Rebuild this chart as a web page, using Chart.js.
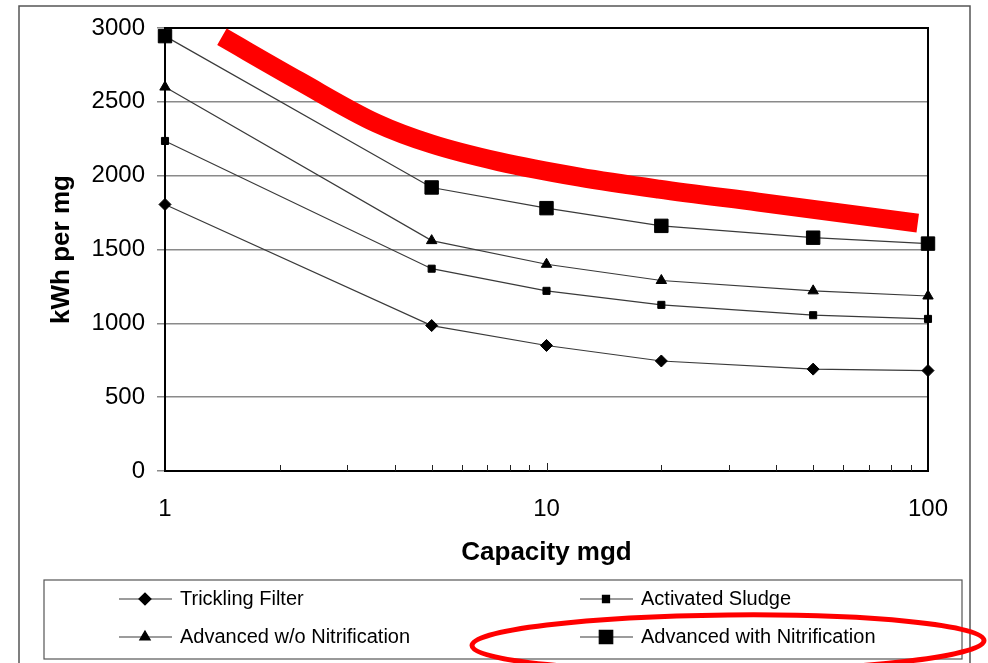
<!DOCTYPE html>
<html lang="en">
<head>
<meta charset="UTF-8">
<title>kWh per mg vs Capacity</title>
<script src="https://cdn.jsdelivr.net/npm/chart.js"></script>
<style>
  body { margin: 0; background: #fff; }
  canvas { display: block; }
</style>
</head>
<body>
<canvas id="energyChart" width="988" height="663"></canvas>
<script>
// capacity (mgd) where each curve was read
const capacity = [1, 5, 10, 20, 50, 100];

const tricklingFilter = [1805, 985, 850, 745, 690, 680];
const activatedSludge = [2235, 1370, 1220, 1125, 1055, 1030];
const advancedNoNitr  = [2600, 1560, 1400, 1290, 1220, 1185];
const advancedNitr    = [2945, 1920, 1780, 1660, 1580, 1540];

// hand drawn red highlight above the top curve
const highlightX = [1.41, 2.25, 3.58, 5.0, 7.5, 12.2, 19.7, 35.9, 94];
const highlightY = [2940, 2640, 2356, 2214, 2095, 1990, 1909, 1821, 1679];

const seriesLabels = ["Trickling Filter", "Activated Sludge", "Advanced w/o Nitrification", "Advanced with Nitrification"];
const xTickLabels = [1, 10, 100];
const xMinorTicks = [2, 3, 4, 5, 6, 7, 8, 9, 20, 30, 40, 50, 60, 70, 80, 90];
const yTicks = [0, 500, 1000, 1500, 2000, 2500, 3000];

const FONT = "'Liberation Sans', Arial, sans-serif";
const LINE = "#3a3a3a";

function pts(ys) {
    return capacity.map((x, i) => ({ x: x, y: ys[i] }));
}

function series(label, ys, style, radius) {
    return {
        label: label,
        data: pts(ys),
        borderColor: LINE,
        borderWidth: 1.2,
        pointStyle: style,
        pointRadius: radius,
        pointHoverRadius: radius,
        pointBackgroundColor: "#000",
        pointBorderColor: "#000",
        pointBorderWidth: 1,
        tension: 0,
        clip: false
    };
}

// outer page frame
const framePlugin = {
    id: "frame",
    beforeDraw(chart) {
        const ctx = chart.ctx;
        ctx.save();
        ctx.fillStyle = "#fff";
        ctx.fillRect(0, 0, chart.width, chart.height);
        ctx.strokeStyle = "#555";
        ctx.lineWidth = 1.5;
        ctx.beginPath();
        ctx.moveTo(19, chart.height);
        ctx.lineTo(19, 6);
        ctx.lineTo(970, 6);
        ctx.lineTo(970, chart.height);
        ctx.stroke();
        ctx.restore();
    }
};

// top/right plot border and inward minor ticks on the log axis
const plotBoxPlugin = {
    id: "plotBox",
    beforeDatasetsDraw(chart) {
        const ctx = chart.ctx;
        const a = chart.chartArea;
        const xs = chart.scales.x;
        ctx.save();
        ctx.strokeStyle = "#000";
        ctx.lineWidth = 2;
        ctx.beginPath();
        ctx.moveTo(a.left, a.top);
        ctx.lineTo(a.right, a.top);
        ctx.lineTo(a.right, a.bottom);
        ctx.stroke();
        ctx.lineWidth = 1;
        ctx.strokeStyle = "#222";
        ctx.beginPath();
        xMinorTicks.concat([10]).forEach(v => {
            const px = Math.round(xs.getPixelForValue(v)) + 0.5;
            ctx.moveTo(px, a.bottom);
            ctx.lineTo(px, a.bottom - (v === 10 ? 8 : 6));
        });
        ctx.stroke();
        ctx.restore();
    }
};

// two-column legend in a box, plus the red ellipse round the last entry
const legendPlugin = {
    id: "boxLegend",
    afterDraw(chart) {
        const ctx = chart.ctx;
        const box = { left: 44, top: 580, right: 962, bottom: 659 };
        const colX = [119, 580];
        const rowY = [599, 637];
        ctx.save();
        ctx.strokeStyle = "#555";
        ctx.lineWidth = 1.2;
        ctx.strokeRect(box.left, box.top, box.right - box.left, box.bottom - box.top);

        const items = chart.data.datasets.filter(d => seriesLabels.includes(d.label));
        let ellipseAt = null;
        items.forEach((ds, i) => {
            const x = colX[i % 2];
            const y = rowY[Math.floor(i / 2)];
            ctx.strokeStyle = LINE;
            ctx.lineWidth = 1.2;
            ctx.beginPath();
            ctx.moveTo(x, y);
            ctx.lineTo(x + 53, y);
            ctx.stroke();
            ctx.fillStyle = "#000";
            ctx.strokeStyle = "#000";
            Chart.helpers.drawPoint(ctx, {
                pointStyle: ds.pointStyle,
                radius: ds.pointRadius,
                rotation: 0,
                borderWidth: 1
            }, x + 26, y);
            ctx.fillStyle = "#000";
            ctx.font = "20px " + FONT;
            ctx.textBaseline = "middle";
            ctx.textAlign = "left";
            ctx.fillText(ds.label, x + 61, y);
            if (ds.label === "Advanced with Nitrification") ellipseAt = { x: x, y: y };
        });

        if (ellipseAt) {
            ctx.strokeStyle = "#ff0000";
            ctx.lineWidth = 5;
            ctx.beginPath();
            ctx.ellipse(ellipseAt.x + 148, ellipseAt.y + 6, 256, 28, -0.01, 0, Math.PI * 2);
            ctx.stroke();
        }
        ctx.restore();
    }
};

const ctx = document.getElementById("energyChart").getContext("2d");
const energyChart = new Chart(ctx, {
    type: "line",
    data: {
        datasets: [
            series(seriesLabels[0], tricklingFilter, "rectRot", 6),
            series(seriesLabels[1], activatedSludge, "rect", 5),
            series(seriesLabels[2], advancedNoNitr, "triangle", 6),
            series(seriesLabels[3], advancedNitr, "rect", 9.5),
            {
                label: "highlight",
                data: highlightX.map((x, i) => ({ x: x, y: highlightY[i] })),
                borderColor: "#ff0000",
                borderWidth: 19,
                borderCapStyle: "butt",
                pointRadius: 0,
                cubicInterpolationMode: "monotone",
                clip: false,
                order: -1
            }
        ]
    },
    options: {
        responsive: false,
        animation: false,
        events: [],
        layout: { padding: { left: 0, top: 28, right: 60, bottom: 92 } },
        plugins: {
            legend: { display: false },
            tooltip: { enabled: false }
        },
        scales: {
            x: {
                type: "logarithmic",
                min: 1,
                max: 100,
                afterFit(s) { s.height = 100; },
                afterBuildTicks(s) { s.ticks = xTickLabels.map(v => ({ value: v })); },
                grid: { display: false, drawTicks: false },
                border: { display: true, color: "#000", width: 2 },
                ticks: {
                    padding: 24,
                    autoSkip: false,
                    maxRotation: 0,
                    color: "#000",
                    font: { family: FONT, size: 24 },
                    callback: v => String(v)
                },
                title: {
                    display: true,
                    text: "Capacity mgd",
                    color: "#000",
                    font: { family: FONT, size: 26, weight: "bold" },
                    padding: { top: 0, bottom: 3 }
                }
            },
            y: {
                min: 0,
                max: 3000,
                afterFit(s) { s.width = 165; },
                afterBuildTicks(s) { s.ticks = yTicks.map(v => ({ value: v })); },
                grid: {
                    color: "#8a8a8a",
                    lineWidth: 1.5,
                    drawTicks: true,
                    tickLength: 8,
                    tickColor: "#8a8a8a"
                },
                border: { display: true, color: "#000", width: 2 },
                ticks: {
                    padding: 12,
                    color: "#000",
                    font: { family: FONT, size: 24 },
                    callback: v => String(v)
                },
                title: {
                    display: true,
                    text: "kWh per mg",
                    color: "#000",
                    font: { family: FONT, size: 26, weight: "bold" },
                    padding: { top: 46, bottom: 0 }
                }
            }
        }
    },
    plugins: [framePlugin, plotBoxPlugin, legendPlugin]
});
</script>
</body>
</html>
